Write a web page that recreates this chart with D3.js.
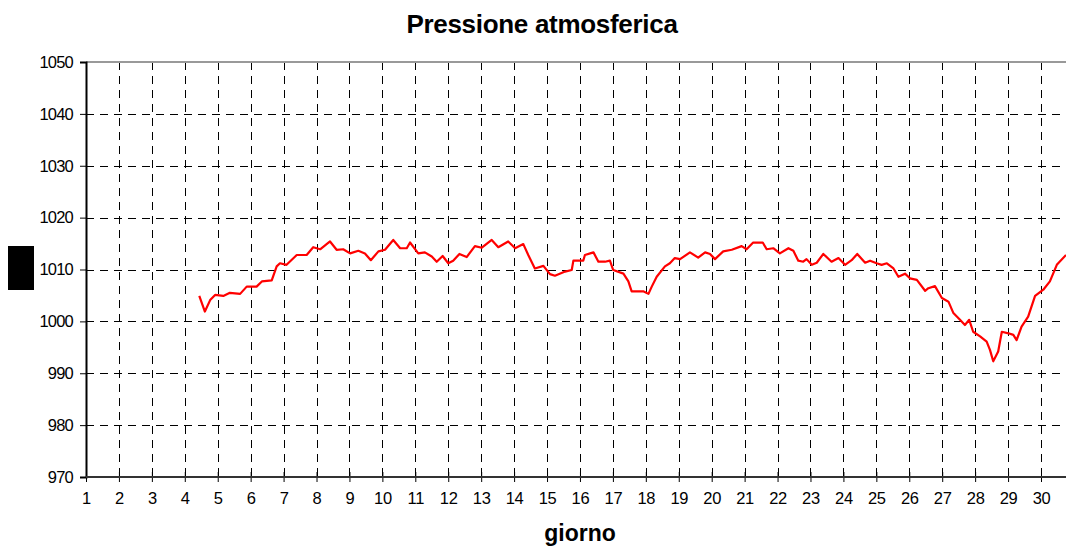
<!DOCTYPE html>
<html>
<head>
<meta charset="utf-8">
<script src="https://d3js.org/d3.v7.min.js"></script>
<style>
body, html {
  margin: 0;
  padding: 0;
  background: #fff;
  font-family: Arial, "Liberation Sans", sans-serif;
}
.grid line {
  stroke: #000;
  stroke-width: 1;
  stroke-dasharray: 8, 6;
}
.tick text {
  font-size: 16.5px;
  fill: #000;
  letter-spacing: -0.8px;
}
</style>
</head>
<body>
<div id="chart"></div>
<script>
// giorno (day, fractional) and pressione (hPa)
var days = [4.44, 4.61, 4.77, 4.92, 5.17, 5.37, 5.68, 5.88, 6.18, 6.34, 6.64, 6.79, 6.89, 7.09,
  7.40, 7.70, 7.90, 8.11, 8.41, 8.61, 8.81, 9.02, 9.27, 9.47, 9.65, 9.88, 10.08, 10.33, 10.54,
  10.74, 10.84, 11.09, 11.29, 11.50, 11.65, 11.83, 12.00, 12.15, 12.34, 12.56, 12.81, 13.02,
  13.32, 13.52, 13.82, 14.03, 14.28, 14.43, 14.63, 14.89, 15.09, 15.24, 15.55, 15.75, 15.80,
  16.10, 16.15, 16.31, 16.41, 16.56, 16.76, 16.91, 17.01, 17.32, 17.47, 17.57, 17.92, 18.08,
  18.18, 18.33, 18.58, 18.73, 18.88, 19.04, 19.34, 19.59, 19.80, 19.95, 20.10, 20.35, 20.61,
  20.91, 21.06, 21.26, 21.55, 21.67, 21.87, 22.07, 22.33, 22.48, 22.63, 22.78, 22.88, 23.04,
  23.19, 23.39, 23.64, 23.85, 24.05, 24.25, 24.42, 24.66, 24.81, 25.01, 25.16, 25.32, 25.52,
  25.67, 25.87, 26.02, 26.23, 26.48, 26.58, 26.78, 26.99, 27.19, 27.34, 27.54, 27.69, 27.82,
  27.94, 28.15, 28.35, 28.45, 28.55, 28.70, 28.81, 29.01, 29.16, 29.26, 29.41, 29.61, 29.82,
  30.07, 30.27, 30.48, 30.76];
var pressione = [1004.9, 1001.9, 1004.1, 1005.1, 1004.9, 1005.5, 1005.3, 1006.7, 1006.7, 1007.7,
  1007.9, 1010.6, 1011.2, 1010.9, 1012.8, 1012.8, 1014.3, 1013.9, 1015.4, 1013.8, 1013.9, 1013.1,
  1013.6, 1013.1, 1011.8, 1013.5, 1013.8, 1015.7, 1014.1, 1014.1, 1015.2, 1013.1, 1013.3, 1012.5,
  1011.5, 1012.6, 1011.2, 1011.7, 1013.0, 1012.4, 1014.5, 1014.2, 1015.7, 1014.3, 1015.4, 1014.1,
  1014.9, 1012.8, 1010.2, 1010.7, 1009.1, 1008.8, 1009.6, 1009.9, 1011.7, 1011.7, 1012.8, 1013.1,
  1013.3, 1011.5, 1011.5, 1011.7, 1009.9, 1009.2, 1007.7, 1005.8, 1005.8, 1005.3, 1006.7, 1008.6,
  1010.6, 1011.2, 1012.2, 1012.0, 1013.3, 1012.3, 1013.3, 1013.0, 1012.0, 1013.5, 1013.8, 1014.5,
  1013.9, 1015.2, 1015.2, 1013.9, 1014.1, 1013.1, 1014.1, 1013.6, 1011.7, 1011.5, 1012.0, 1010.9,
  1011.3, 1013.0, 1011.5, 1012.2, 1010.9, 1011.8, 1013.0, 1011.3, 1011.7, 1011.2, 1010.9, 1011.2,
  1010.2, 1008.6, 1009.2, 1008.3, 1008.0, 1005.9, 1006.4, 1006.8, 1004.5, 1003.8, 1001.6, 1000.3,
  999.3, 1000.3, 998.0, 997.1, 996.1, 994.5, 992.3, 994.2, 998.0, 997.7, 997.4, 996.4, 999.0,
  1000.9, 1004.9, 1006.1, 1007.7, 1010.9, 1012.8];
var dayTicks = d3.range(1, 31);
var pressTicks = [970, 980, 990, 1000, 1010, 1020, 1030, 1040, 1050];

var width = 1066,
    height = 549;

var svg = d3.select('#chart').append('svg')
  .attr('width', width)
  .attr('height', height);

var x = d3.scaleLinear()
  .domain([1, 30])
  .range([86, 1041]);

var y = d3.scaleLinear()
  .domain([970, 1050])
  .range([477, 62]);

// griglia tratteggiata
var grid = svg.append('g').attr('class', 'grid');
grid.selectAll('line.v')
  .data(dayTicks.slice(1))
  .enter().append('line')
  .attr('class', 'v')
  .attr('x1', function(d) { return Math.round(x(d)) + 0.5; })
  .attr('x2', function(d) { return Math.round(x(d)) + 0.5; })
  .attr('y1', y(1050))
  .attr('y2', y(970));
grid.selectAll('line.h')
  .data(pressTicks.slice(1, -1))
  .enter().append('line')
  .attr('class', 'h')
  .attr('x1', x(1))
  .attr('x2', width)
  .attr('y1', function(d) { return Math.round(y(d)) + 0.5; })
  .attr('y2', function(d) { return Math.round(y(d)) + 0.5; });

// bordo superiore
svg.append('line')
  .attr('x1', x(1)).attr('x2', width)
  .attr('y1', y(1050)).attr('y2', y(1050))
  .attr('stroke', '#999').attr('stroke-width', 2);

// assi
var yAxis = svg.append('g')
  .attr('transform', 'translate(' + x(1) + ',0)')
  .call(d3.axisLeft(y).tickValues(pressTicks).tickFormat(d3.format('d')).tickSize(6).tickPadding(7));
yAxis.select('.domain').attr('stroke', '#000').attr('stroke-width', 2);

var xAxis = svg.append('g')
  .attr('transform', 'translate(0,' + y(970) + ')')
  .call(d3.axisBottom(x).tickValues(dayTicks).tickSize(5).tickPadding(10));
xAxis.select('.domain').remove();
xAxis.selectAll('.tick line').attr('y1', -5);
xAxis.selectAll('.tick text').style('letter-spacing', '-0.3px');
xAxis.append('line')
  .attr('x1', x(1)).attr('x2', width)
  .attr('stroke', '#333').attr('stroke-width', 2);

// linea pressione
var line = d3.line()
  .x(function(d, i) { return x(days[i]); })
  .y(function(d) { return y(d); });

svg.append('path')
  .datum(pressione)
  .attr('fill', 'none')
  .attr('stroke', '#ff0000')
  .attr('stroke-width', 2.2)
  .attr('stroke-linejoin', 'round')
  .attr('d', line);

// titoli
svg.append('text')
  .attr('x', 542).attr('y', 33)
  .attr('text-anchor', 'middle')
  .style('font-size', '26px').style('font-weight', 'bold')
  .style('letter-spacing', '-0.3px')
  .text('Pressione atmosferica');

svg.append('text')
  .attr('x', 580).attr('y', 541)
  .attr('text-anchor', 'middle')
  .style('font-size', '23px').style('font-weight', 'bold')
  .text('giorno');

// etichetta asse y (oscurata)
svg.append('rect')
  .attr('x', 8).attr('y', 246)
  .attr('width', 26).attr('height', 44)
  .attr('fill', '#000');
</script>
</body>
</html>
